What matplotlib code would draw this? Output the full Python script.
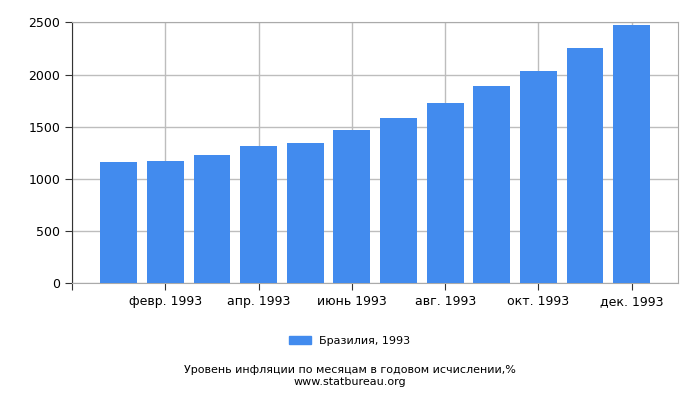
import numpy as np
import matplotlib
matplotlib.use('Agg')
import matplotlib.pyplot as plt
from matplotlib.patches import Patch

months = ['янв. 1993', 'февр. 1993', 'март 1993', 'апр. 1993', 'май 1993', 'июнь 1993',
          'июль 1993', 'авг. 1993', 'сент. 1993', 'окт. 1993', 'нояб. 1993', 'дек. 1993']
values = [1162, 1171, 1229, 1315, 1344, 1468, 1583, 1727, 1890, 2034, 2254, 2474]
series_name = 'Бразилия, 1993'
title = 'Уровень инфляции по месяцам в годовом исчислении,%'
source = 'www.statbureau.org'

bar_color = '#428bee'

fig = plt.figure(figsize=(7, 4), dpi=100)
ax = fig.add_axes([0.103, 0.292, 0.866, 0.652])

x = np.arange(len(values))
ax.bar(x, values, width=0.79, color=bar_color, zorder=3)

ax.set_xlim(-1, len(values))
ax.set_ylim(0, 2500)
ax.set_yticks(np.arange(0, 2501, 500))

# ticks every second month, plus one at the left edge
tick_pos = [-1] + list(x[1::2])
tick_lab = [''] + [months[i] for i in x[1::2]]
ax.set_xticks(tick_pos)
ax.set_xticklabels(tick_lab, fontsize=9)
ax.tick_params(axis='y', labelsize=9, length=5, color='#333333')
ax.tick_params(axis='x', length=5, color='#333333')

ax.grid(True, color='#bdbdbd', linewidth=1, zorder=0)
for s in ['top', 'right', 'bottom']:
    ax.spines[s].set_color('#aaaaaa')
ax.spines['left'].set_color('#333333')

fig.legend(handles=[Patch(color=bar_color, label=series_name)],
           loc='center', bbox_to_anchor=(0.5, 0.148), frameon=False,
           fontsize=8, handlelength=1.9, handleheight=0.8)

fig.text(0.5, 0.074, title, ha='center', va='center', fontsize=8)
fig.text(0.5, 0.045, source, ha='center', va='center', fontsize=8)

fig.savefig('out.png', dpi=100)
